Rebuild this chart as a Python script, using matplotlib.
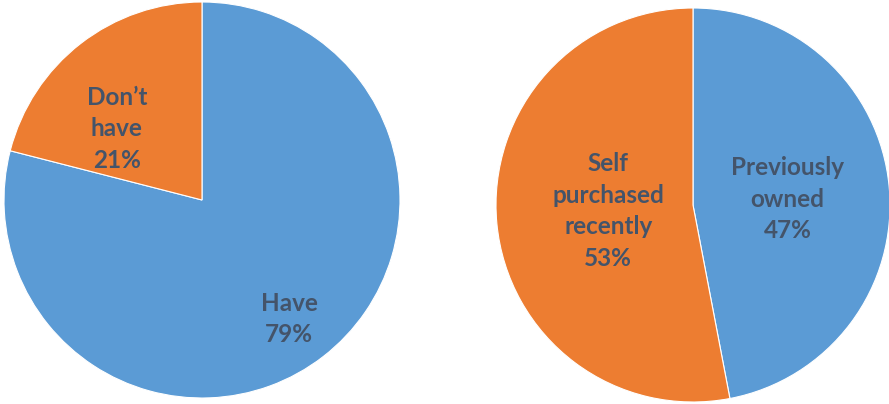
import matplotlib
matplotlib.use("Agg")
import matplotlib.pyplot as plt

# Survey shares for the two pies
own_labels = ["Have", "Don\u2019t\nhave"]
own_values = [79, 21]
source_labels = ["Previously\nowned", "Self\npurchased\nrecently"]
source_values = [47, 53]

BLUE = "#5B9BD5"
ORANGE = "#ED7D31"
TEXT = "#44546A"

# label anchor points inside each pie (data units, radius = 1)
own_label_pos = [(0.44, -0.60), (-0.43, 0.36)]
source_label_pos = [(0.48, 0.03), (-0.43, -0.03)]

W, H = 889, 404
fig = plt.figure(figsize=(W / 100, H / 100), dpi=100)


def draw_pie(rect, labels, values, label_pos):
    ax = fig.add_axes(rect)
    ax.pie(values, colors=[BLUE, ORANGE], startangle=90, counterclock=False,
           radius=1.0, wedgeprops=dict(edgecolor="white", linewidth=0.8))
    for lab, val, (x, y) in zip(labels, values, label_pos):
        ax.text(x, y, f"{lab}\n{val}%", ha="center", va="center",
                fontsize=17.5, fontweight="bold", color=TEXT,
                family="Lato", linespacing=1.45)
    ax.set_xlim(-1, 1)
    ax.set_ylim(-1, 1)
    ax.set_aspect("equal")
    ax.axis("off")
    return ax


# left pie: centre (202, 200), r 198 px; right pie: centre (693, 205), r 197 px
draw_pie([(202 - 198) / W, (H - 200 - 198) / H, 396 / W, 396 / H],
         own_labels, own_values, own_label_pos)
draw_pie([(693 - 197) / W, (H - 205 - 197) / H, 394 / W, 394 / H],
         source_labels, source_values, source_label_pos)

fig.savefig("out.png", dpi=100)
